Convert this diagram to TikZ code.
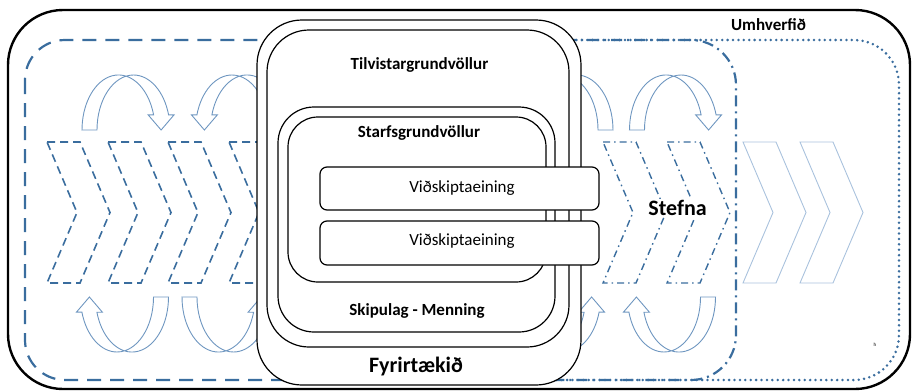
\documentclass[tikz,border=0pt]{standalone}
\usepackage{fontspec}
\setmainfont{Carlito}
\definecolor{dblue}{HTML}{3A6D9E}
\definecolor{ablue}{HTML}{6E96C0}
\definecolor{lblue}{HTML}{A9C2DD}
\tikzset{
  bigdash/.style={dblue, line width=2.2pt, dash pattern=on 14pt off 9pt},
  bigdashdot/.style={dblue, line width=2.2pt, dash pattern=on 11pt off 5pt on 2pt off 5pt},
  bigdot/.style={dblue, line width=2.8pt, line cap=round, dash pattern=on 0pt off 5.4pt},
  chevdash/.style={dblue, line width=1.6pt, dash pattern=on 8pt off 5pt},
  chevdashdot/.style={dblue, line width=1.4pt, dash pattern=on 7pt off 4pt on 1.5pt off 4pt},
  chevlight/.style={lblue, line width=0.9pt},
  chev/.pic={\draw (0,0) -- (33,0) -- (63,70.5) -- (33,141) -- (0,141) -- (30,70.5) -- cycle;},
  carrow/.pic={\draw[ablue, line width=0.9pt, line join=miter]
     (-7.5,0) -- (7.5,0) arc[start angle=180, end angle=16, x radius=36.5pt, y radius=55pt]
     -- (84.6,-15.2) -- (71.6,0) -- (58.6,-15.2) -- (64.1,-15.2)
     arc[start angle=16, end angle=180, x radius=36.5pt, y radius=55pt] -- cycle;},
  boxn/.style={draw=black, line width=1.2pt, fill=white, rectangle, inner sep=0pt},
  lbl/.style={font=\fontsize{17pt}{20pt}\selectfont\bfseries, inner sep=0pt},
  lblr/.style={font=\fontsize{17pt}{20pt}\selectfont, inner sep=0pt},
  lblbig/.style={font=\fontsize{22pt}{26pt}\selectfont\bfseries, inner sep=0pt},
}
\begin{document}
\begin{tikzpicture}[x=1pt,y=-1pt]
\useasboundingbox (0,0) rectangle (912,391);
% environment frame
\draw[line width=2.4pt, rounded corners=55pt] (8,10) rectangle (910,389);
% big regions
\draw[bigdot, rounded corners=45pt] (400,40) rectangle (899,380);
\draw[bigdashdot, rounded corners=45pt] (300,40) rectangle (736,380);
\draw[bigdash, rounded corners=40pt] (25,40) rectangle (560,380);
% chevrons
\foreach \cx in {47,108,168,229} \pic[chevdash] at (\cx,142) {chev};
\foreach \cx in {603,667} \pic[chevdashdot] at (\cx,142) {chev};
\foreach \cx in {743,800} \pic[chevlight] at (\cx,142) {chev};
% curved arrows
\pic at (89.5,130) {carrow};
\pic[xscale=-1] at (276,130) {carrow};
\pic[xscale=-1] at (605.5,130) {carrow};
\pic at (637,130) {carrow};
\pic[rotate=180] at (161,297) {carrow};
\pic[yscale=-1] at (189.5,297) {carrow};
\pic[yscale=-1] at (520,297) {carrow};
\pic[rotate=180] at (708,297) {carrow};
% labels outside
\node[lblbig, fill=white, inner sep=1.5pt] (stefna) at (677.5,208) {Stefna};
\node[lbl] (umhv) at (768.5,25) {Umhverfið};
\node[font=\fontsize{5pt}{6pt}\selectfont, inner sep=0pt] (hmark) at (875,345) {h};
% company stack
\node[boxn, rounded corners=45pt, minimum width=324pt, minimum height=365pt] (fyr) at (419,202.5) {};
\node[boxn, rounded corners=42pt, minimum width=302pt, minimum height=317pt] (tilv) at (418,188.5) {};
\node[boxn, rounded corners=36pt, minimum width=277pt, minimum height=225pt] (skip) at (416.5,219.5) {};
\node[boxn, rounded corners=30pt, minimum width=258pt, minimum height=165pt] (starf) at (417,199.5) {};
\node[boxn, rounded corners=7pt, minimum width=279pt, minimum height=43pt] (vid1) at (459.5,188.5) {};
\node[boxn, rounded corners=7pt, minimum width=279pt, minimum height=44pt] (vid2) at (459.5,243) {};
\node[lbl] (tilvl) at (419.5,65) {Tilvistargrundvöllur};
\node[lbl] (starfl) at (419,133) {Starfsgrundvöllur};
\node[lblr] (vid1l) at (462,188) {Viðskiptaeining};
\node[lblr] (vid2l) at (462,241) {Viðskiptaeining};
\node[lbl] (skipl) at (417,311) {Skipulag - Menning};
\node[lblbig] (fyrl) at (416,367) {Fyrirtækið};
\end{tikzpicture}
\end{document}
